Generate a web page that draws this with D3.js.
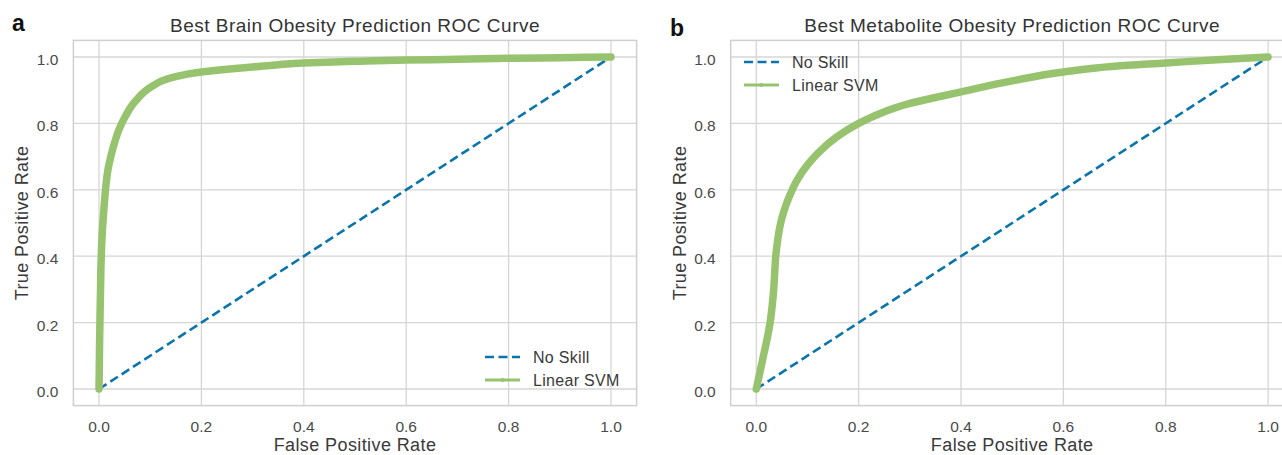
<!DOCTYPE html>
<html>
<head>
<meta charset="utf-8">
<title>ROC curves</title>
<script src="https://d3js.org/d3.v7.min.js"></script>
<style>
    body { margin: 0; background: #fff; }
    svg { display: block; font-family: "Liberation Sans", Arial, sans-serif; }
    .tick-label { font-size: 15.5px; fill: #4a4a4a; }
    .axis-label { font-size: 18px; fill: #3a3a3a; letter-spacing: 0.4px; }
    .title { font-size: 19px; fill: #333; letter-spacing: 0.5px; }
    .legend-text { font-size: 16px; fill: #3a3a3a; letter-spacing: 0.3px; }
    .panel-letter { font-size: 23px; font-weight: bold; fill: #111; }
</style>
</head>
<body>
<div id="chart"></div>
<script>
    // values
    var ticks = [0, 0.2, 0.4, 0.6, 0.8, 1.0];
    var tickLabels = ["0.0", "0.2", "0.4", "0.6", "0.8", "1.0"];
    var legendLabels = ["No Skill", "Linear SVM"];
    var titles = ["Best Brain Obesity Prediction ROC Curve", "Best Metabolite Obesity Prediction ROC Curve"];
    var letters = ["a", "b"];

    var noSkillFpr = [0, 1];
    var noSkillTpr = [0, 1];

    var brainFpr = [0, 0.001, 0.002, 0.003, 0.004, 0.006, 0.0085, 0.011, 0.014, 0.018, 0.023, 0.03, 0.04, 0.051, 0.07, 0.103, 0.135, 0.168, 0.2, 0.25, 0.3, 0.35, 0.4, 0.5, 0.6, 0.7, 0.8, 0.9, 1.0];
    var brainTpr = [0, 0.12, 0.22, 0.3, 0.38, 0.46, 0.52, 0.57, 0.62, 0.665, 0.70, 0.74, 0.785, 0.82, 0.865, 0.911, 0.935, 0.947, 0.955, 0.963, 0.970, 0.977, 0.982, 0.987, 0.991, 0.993, 0.996, 0.998, 1.0];

    var metabFpr = [0, 0.007, 0.014, 0.021, 0.027, 0.031, 0.034, 0.036, 0.038, 0.041, 0.045, 0.05, 0.057, 0.066, 0.08, 0.1, 0.12, 0.158, 0.2, 0.242, 0.3, 0.35, 0.4, 0.5, 0.6, 0.7, 0.8, 0.9, 1.0];
    var metabTpr = [0, 0.05, 0.1, 0.15, 0.2, 0.25, 0.3, 0.35, 0.4, 0.44, 0.48, 0.515, 0.55, 0.585, 0.63, 0.675, 0.71, 0.76, 0.80, 0.83, 0.86, 0.878, 0.895, 0.928, 0.955, 0.972, 0.982, 0.992, 1.0];

    var blue = "#0a75aa";
    var green = "#97c36f";
    var gridColor = "#d6d6d6";

    var width = 1282, height = 455;

    var svg = d3.select("#chart").append("svg")
        .attr("width", width)
        .attr("height", height);

    // layout of the two axes boxes
    var panels = [
        { left: 73.4, right: 636.6, fpr: brainFpr, tpr: brainTpr, legendX: 485, legendY: 357, letterX: 12, letterY: 31 },
        { left: 730.7, right: 1293.7, fpr: metabFpr, tpr: metabTpr, legendX: 744, legendY: 62, letterX: 670, letterY: 36 }
    ];
    var plotTop = 40.4, plotBottom = 405.6;

    panels.forEach(function(p, i) {
        var x = d3.scaleLinear().domain([-0.05, 1.05]).range([p.left, p.right]);
        var y = d3.scaleLinear().domain([-0.05, 1.05]).range([plotBottom, plotTop]);
        var g = svg.append("g");

        // grid
        g.selectAll("line.vgrid").data(ticks).enter().append("line")
            .attr("x1", function(d){ return x(d); }).attr("x2", function(d){ return x(d); })
            .attr("y1", plotTop).attr("y2", plotBottom)
            .attr("stroke", gridColor).attr("stroke-width", 1.3);
        g.selectAll("line.hgrid").data(ticks).enter().append("line")
            .attr("y1", function(d){ return y(d); }).attr("y2", function(d){ return y(d); })
            .attr("x1", p.left).attr("x2", p.right)
            .attr("stroke", gridColor).attr("stroke-width", 1.3);

        // frame
        g.append("rect")
            .attr("x", p.left).attr("y", plotTop)
            .attr("width", p.right - p.left).attr("height", plotBottom - plotTop)
            .attr("fill", "none").attr("stroke", "#cfcfcf").attr("stroke-width", 1.5);

        // tick labels
        g.selectAll("text.xt").data(ticks).enter().append("text")
            .attr("class", "tick-label")
            .attr("x", function(d){ return x(d); })
            .attr("y", plotBottom + 26)
            .attr("text-anchor", "middle")
            .text(function(d, k){ return tickLabels[k]; });
        g.selectAll("text.yt").data(ticks).enter().append("text")
            .attr("class", "tick-label")
            .attr("x", p.left - 15)
            .attr("y", function(d){ return y(d) + 8; })
            .attr("text-anchor", "end")
            .text(function(d, k){ return tickLabels[k]; });

        // axis labels
        var cx = (p.left + p.right) / 2;
        g.append("text").attr("class", "axis-label")
            .attr("x", cx).attr("y", 451)
            .attr("text-anchor", "middle")
            .text("False Positive Rate");
        g.append("text").attr("class", "axis-label")
            .attr("transform", "translate(" + (p.left - 45) + "," + ((plotTop + plotBottom) / 2) + ") rotate(-90)")
            .attr("text-anchor", "middle")
            .text("True Positive Rate");

        // title and letter
        g.append("text").attr("class", "title")
            .attr("x", cx).attr("y", 31.5)
            .attr("text-anchor", "middle")
            .text(titles[i]);
        g.append("text").attr("class", "panel-letter")
            .attr("x", p.letterX).attr("y", p.letterY)
            .text(letters[i]);

        // no skill line
        var line = d3.line()
            .x(function(d){ return x(d[0]); })
            .y(function(d){ return y(d[1]); });
        g.append("path")
            .datum(d3.zip(noSkillFpr, noSkillTpr))
            .attr("d", line)
            .attr("fill", "none")
            .attr("stroke", blue)
            .attr("stroke-width", 2.6)
            .attr("stroke-dasharray", "9,4.5");

        // model curve (thick because of the markers)
        g.append("path")
            .datum(d3.zip(p.fpr, p.tpr))
            .attr("d", line.curve(d3.curveMonotoneY))
            .attr("fill", "none")
            .attr("stroke", green)
            .attr("stroke-width", 7.5)
            .attr("stroke-linejoin", "round")
            .attr("stroke-linecap", "round");

        // legend
        var lg = g.append("g").attr("transform", "translate(" + p.legendX + "," + p.legendY + ")");
        lg.append("line").attr("x1", 0).attr("x2", 35).attr("y1", 0).attr("y2", 0)
            .attr("stroke", blue).attr("stroke-width", 2.6).attr("stroke-dasharray", "9,4.5");
        lg.append("line").attr("x1", 0).attr("x2", 35).attr("y1", 23).attr("y2", 23)
            .attr("stroke", green).attr("stroke-width", 3);
        lg.append("circle").attr("cx", 17.5).attr("cy", 23).attr("r", 2).attr("fill", green);
        lg.selectAll("text").data(legendLabels).enter().append("text")
            .attr("class", "legend-text")
            .attr("x", 48)
            .attr("y", function(d, k){ return 6 + k * 23; })
            .text(function(d){ return d; });
    });
</script>
</body>
</html>
